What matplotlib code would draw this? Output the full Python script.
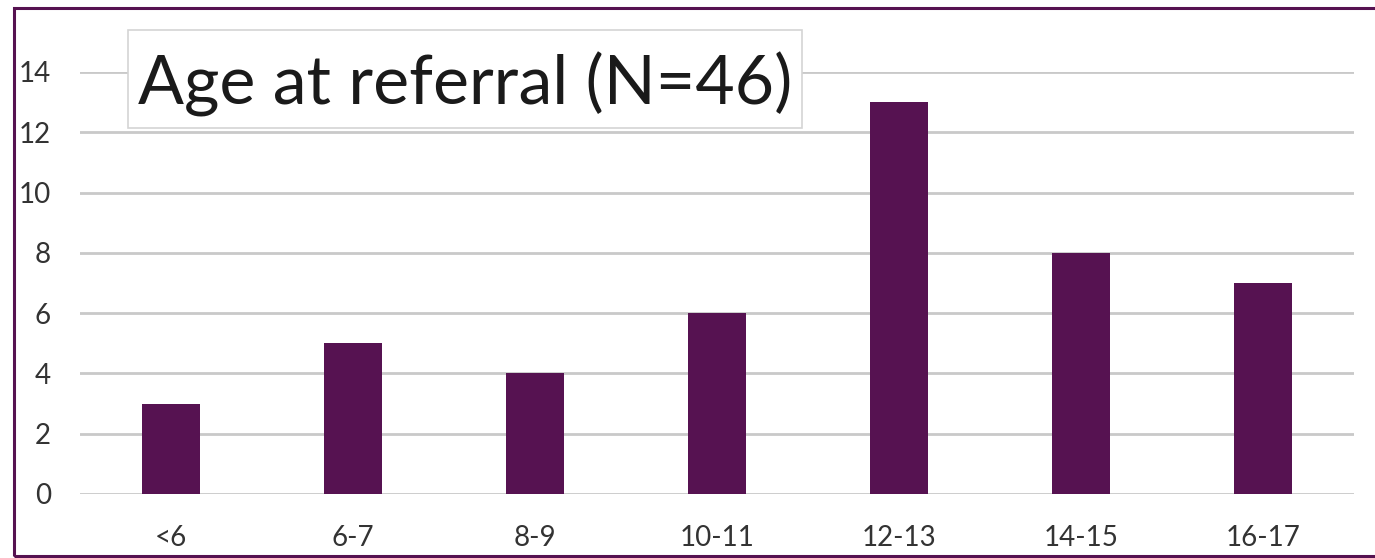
import matplotlib
matplotlib.use("Agg")
import matplotlib.pyplot as plt
from matplotlib.patches import Rectangle

categories = ["<6", "6-7", "8-9", "10-11", "12-13", "14-15", "16-17"]
counts = [3, 5, 4, 6, 13, 8, 7]
y_ticks = [0, 2, 4, 6, 8, 10, 12, 14]
title = "Age at referral (N=46)"

bar_color = "#561251"
grid_color = "#c9c9c9"
text_color = "#333333"

plt.rcParams["font.family"] = ["Lato", "DejaVu Sans"]

W, H = 1375, 558
fig = plt.figure(figsize=(W / 100, H / 100), dpi=100)
fig.patch.set_facecolor("white")

ax = fig.add_axes([80 / W, (H - 494) / H, (1354 - 80) / W, (494 - 72) / H])
x = range(len(categories))
ax.bar(x, counts, width=0.32, color=bar_color, zorder=3)
ax.set_xlim(-0.5, len(categories) - 0.5)
ax.set_ylim(0, 14)
ax.set_yticks(y_ticks)
ax.set_xticks(list(x))
ax.set_xticklabels(categories)
ax.yaxis.grid(True, color=grid_color, linewidth=2, zorder=0)
ax.set_axisbelow(True)
for s in ax.spines.values():
    s.set_visible(False)
ax.tick_params(axis="both", length=0, labelsize=20, colors=text_color)
ax.tick_params(axis="x", pad=22)
ax.tick_params(axis="y", pad=21)

# Outer frame around the chart
fig.patches.append(Rectangle((14 / W, (H - 556) / H), 1.0, (556 - 8) / H,
                             transform=fig.transFigure, fill=False,
                             edgecolor=bar_color, linewidth=2.2, zorder=10))

# Title box
fig.patches.append(Rectangle((128 / W, (H - 128) / H), (802 - 128) / W, (128 - 30) / H,
                             transform=fig.transFigure, facecolor="white",
                             edgecolor="#d4d4d4", linewidth=1.2, zorder=5))
fig.text(465 / W, (H - 84) / H, title, ha="center", va="center",
         fontsize=49, color="#1a1a1a", zorder=6)

fig.savefig("out.png", dpi=100)
